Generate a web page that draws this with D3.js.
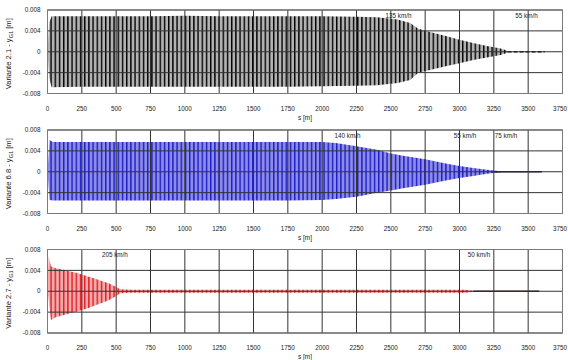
<!DOCTYPE html>
<html>
<head>
<meta charset="utf-8">
<script src="https://cdn.jsdelivr.net/npm/d3@7/dist/d3.min.js"></script>
<style>
  body { margin: 0; background: #fff; }
  svg { display: block; }
  text { font-family: "Liberation Sans", Arial, sans-serif; fill: #222; }
</style>
</head>
<body>
<svg id="chart" width="568" height="360"></svg>
<script>
// Axis ticks shared by the three panels
const xTicks = [0, 250, 500, 750, 1000, 1250, 1500, 1750, 2000, 2250, 2500, 2750, 3000, 3250, 3500, 3750];
const yTicks = [-0.008, -0.004, 0, 0.004, 0.008];
const yTickLabels = ["-0.008", "-0.004", "0", "0.004", "0.008"];

// Variante 2.1 – oscillation envelope along the track (s in m, y in m)
const s21 = [0, 12, 30, 250, 500, 750, 1000, 1250, 1500, 1750, 2000, 2250, 2400, 2550, 2640, 2700, 2800, 2900, 3000, 3100, 3200, 3300, 3350];
const up21 = [0, 0.0056, 0.0068, 0.0068, 0.0068, 0.0068, 0.0069, 0.0068, 0.0068, 0.0068, 0.0068, 0.0067, 0.0066, 0.0062, 0.0055, 0.0044, 0.0037, 0.0030, 0.0023, 0.0017, 0.0011, 0.0006, 0.0002];
const lo21 = [0, -0.0050, -0.0068, -0.0067, -0.0067, -0.0067, -0.0067, -0.0067, -0.0067, -0.0067, -0.0066, -0.0065, -0.0064, -0.0060, -0.0054, -0.0040, -0.0034, -0.0028, -0.0022, -0.0016, -0.0011, -0.0006, -0.0002];
const tail21 = [3350, 3620];
const speeds21 = [{ s: 2556, text: "135 km/h" }, { s: 3488, text: "55 km/h" }];

// Variante 6.8
const s68 = [0, 15, 40, 250, 500, 750, 1000, 1250, 1500, 1750, 2000, 2100, 2250, 2400, 2500, 2600, 2750, 2900, 3000, 3100, 3200, 3300];
const up68 = [0, 0.0061, 0.0057, 0.0057, 0.0057, 0.0057, 0.0057, 0.0057, 0.0057, 0.0057, 0.0057, 0.0055, 0.0049, 0.0042, 0.0035, 0.0030, 0.0024, 0.0016, 0.0011, 0.0007, 0.0004, 0.0001];
const lo68 = [0, -0.0054, -0.0055, -0.0055, -0.0055, -0.0055, -0.0055, -0.0055, -0.0055, -0.0055, -0.0054, -0.0052, -0.0048, -0.0040, -0.0036, -0.0031, -0.0025, -0.0017, -0.0012, -0.0008, -0.0004, -0.0001];
const tail68 = [3250, 3600];
const speeds68 = [{ s: 2185, text: "140 km/h" }, { s: 3040, text: "55 km/h" }, { s: 3339, text: "75 km/h" }];

// Variante 2.7
const s27 = [0, 8, 25, 60, 100, 150, 200, 250, 300, 350, 400, 450, 500, 530, 600, 3040, 3100];
const up27 = [0, 0.0067, 0.0048, 0.0044, 0.0042, 0.0039, 0.0036, 0.0032, 0.0028, 0.0024, 0.0019, 0.0015, 0.0008, 0.0004, 0.0003, 0.0003, 0.0001];
const lo27 = [0, -0.0015, -0.0055, -0.0050, -0.0047, -0.0043, -0.0040, -0.0036, -0.0032, -0.0027, -0.0022, -0.0017, -0.0009, -0.0004, -0.0003, -0.0003, -0.0001];
const tail27 = [3100, 3580];
const speeds27 = [{ s: 491, text: "205 km/h" }, { s: 3142, text: "50 km/h" }];

const panels = [
  { id: "v21", name: "Variante 2.1", s: s21, up: up21, lo: lo21, tail: tail21, speeds: speeds21,
    top: 10, stripe: "#000000", bg: "#b2b2b2", tailColor: "#000", tailDash: "4,2" },
  { id: "v68", name: "Variante 6.8", s: s68, up: up68, lo: lo68, tail: tail68, speeds: speeds68,
    top: 130, stripe: "#1c1cc4", bg: "#8c8ce8", tailColor: "#141450", tailDash: null },
  { id: "v27", name: "Variante 2.7", s: s27, up: up27, lo: lo27, tail: tail27, speeds: speeds27,
    top: 249.5, stripe: "#e01c24", bg: "#f4aaaa", tailColor: "#3a1414", tailDash: null }
];

const svg = d3.select("#chart");
const defs = svg.append("defs");
const left = 47.5, right = 562.5, plotH = 83.5;

const x = d3.scaleLinear().domain([0, 3750]).range([left, right]);

panels.forEach(p => {
  const y = d3.scaleLinear().domain([-0.008, 0.008]).range([p.top + plotH, p.top]);
  const g = svg.append("g");

  // striped fill standing in for the dense oscillation
  const pat = defs.append("pattern")
    .attr("id", "stripe-" + p.id)
    .attr("patternUnits", "userSpaceOnUse")
    .attr("width", 4.2).attr("height", 10);
  pat.append("rect").attr("width", 4.2).attr("height", 10).attr("fill", p.bg);
  pat.append("rect").attr("x", 0).attr("width", 1.4).attr("height", 10).attr("fill", p.stripe);

  g.append("rect")
    .attr("x", left).attr("y", p.top)
    .attr("width", right - left).attr("height", plotH)
    .attr("fill", "#fff");

  const rows = p.s.map((s, i) => ({ s, up: p.up[i], lo: p.lo[i] }));
  const area = d3.area()
    .x(d => x(d.s))
    .y0(d => y(d.lo))
    .y1(d => y(d.up));
  g.append("path").datum(rows)
    .attr("d", area)
    .attr("fill", `url(#stripe-${p.id})`);

  // residual motion after the oscillation has died out
  g.append("line")
    .attr("x1", x(p.tail[0])).attr("x2", x(p.tail[1]))
    .attr("y1", y(0)).attr("y2", y(0))
    .attr("stroke", p.tailColor)
    .attr("stroke-width", 1.3)
    .attr("stroke-dasharray", p.tailDash);

  // grid
  g.append("g").selectAll("line").data(xTicks).join("line")
    .attr("x1", d => x(d)).attr("x2", d => x(d))
    .attr("y1", p.top).attr("y2", p.top + plotH)
    .attr("stroke", "#333").attr("stroke-width", 1);
  g.append("g").selectAll("line").data(yTicks).join("line")
    .attr("x1", left).attr("x2", right)
    .attr("y1", d => y(d)).attr("y2", d => y(d))
    .attr("stroke", "#333").attr("stroke-width", 1);
  g.append("rect")
    .attr("x", left).attr("y", p.top)
    .attr("width", right - left).attr("height", plotH)
    .attr("fill", "none").attr("stroke", "#7a7a7a").attr("stroke-width", 1);

  // y tick labels
  g.append("g").selectAll("text").data(yTicks).join("text")
    .attr("x", 40.5).attr("y", d => y(d) + 2.2)
    .attr("text-anchor", "end")
    .attr("font-size", 6.3)
    .text((d, i) => yTickLabels[i]);

  // x tick labels (the last one is kept inside the page edge)
  const lastTick = xTicks[xTicks.length - 1];
  g.append("g").selectAll("text").data(xTicks).join("text")
    .attr("x", d => d === lastTick ? Math.min(x(d) + 6, 567) : x(d))
    .attr("y", p.top + plotH + 17)
    .attr("text-anchor", d => d === lastTick ? "end" : "middle")
    .attr("font-size", 6.3)
    .text(d => d);

  g.append("text")
    .attr("x", (left + right) / 2).attr("y", p.top + plotH + 26)
    .attr("text-anchor", "middle")
    .attr("font-size", 6.5)
    .text("s [m]");

  // y axis title
  const yt = g.append("text")
    .attr("transform", `translate(11,${p.top + plotH / 2 + 2}) rotate(-90)`)
    .attr("text-anchor", "middle")
    .attr("font-size", 7.6);
  yt.append("tspan").text(p.name + " - y");
  yt.append("tspan").attr("font-size", 5.6).attr("dy", 1.8).text("G1");
  yt.append("tspan").attr("dy", -1.8).text(" [m]");

  // speed annotations
  g.append("g").selectAll("text").data(p.speeds).join("text")
    .attr("x", d => x(d.s)).attr("y", p.top + 7.5)
    .attr("text-anchor", "middle")
    .attr("font-size", 6.3)
    .text(d => d.text);
});
</script>
</body>
</html>
